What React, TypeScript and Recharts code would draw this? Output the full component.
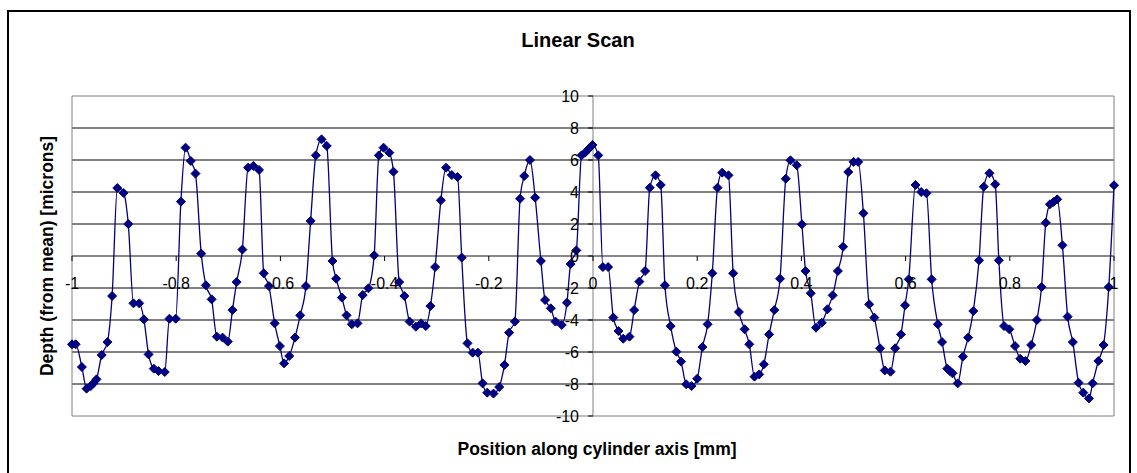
import { LineChart, Line, XAxis, YAxis, ReferenceLine } from 'recharts'

// scan positions along the cylinder axis [mm]
const POSITION = [
  -1.0, -0.993, -0.981, -0.972, -0.964, -0.959, -0.953, -0.943, -0.932, -0.923,
  -0.913, -0.901, -0.892, -0.882, -0.871, -0.862, -0.853, -0.843, -0.834, -0.822,
  -0.813, -0.801, -0.791, -0.782, -0.772, -0.763, -0.752, -0.743, -0.732, -0.722,
  -0.711, -0.701, -0.692, -0.684, -0.673, -0.662, -0.652, -0.641, -0.632, -0.622,
  -0.611, -0.601, -0.593, -0.583, -0.572, -0.562, -0.551, -0.542, -0.532, -0.521,
  -0.511, -0.5, -0.493, -0.482, -0.473, -0.463, -0.452, -0.442, -0.431, -0.42,
  -0.411, -0.402, -0.391, -0.383, -0.372, -0.362, -0.352, -0.34, -0.33, -0.321,
  -0.312, -0.303, -0.292, -0.282, -0.271, -0.26, -0.252, -0.241, -0.231, -0.221,
  -0.212, -0.203, -0.191, -0.18, -0.17, -0.161, -0.15, -0.14, -0.132, -0.121,
  -0.111, -0.1, -0.092, -0.081, -0.072, -0.06, -0.05, -0.043, -0.032, -0.022,
  -0.015, -0.009, -0.001, 0.01, 0.019, 0.029, 0.039, 0.049, 0.058, 0.07,
  0.079, 0.089, 0.1, 0.109, 0.12, 0.13, 0.138, 0.149, 0.16, 0.169,
  0.179, 0.189, 0.2, 0.21, 0.22, 0.229, 0.239, 0.248, 0.26, 0.269,
  0.28, 0.291, 0.3, 0.31, 0.319, 0.328, 0.338, 0.348, 0.359, 0.37,
  0.379, 0.391, 0.401, 0.408, 0.418, 0.428, 0.439, 0.45, 0.46, 0.47,
  0.48, 0.49, 0.5, 0.509, 0.519, 0.53, 0.54, 0.551, 0.56, 0.571,
  0.58, 0.591, 0.599, 0.606, 0.619, 0.63, 0.64, 0.65, 0.662, 0.67,
  0.68, 0.685, 0.69, 0.7, 0.71, 0.72, 0.73, 0.741, 0.75, 0.761,
  0.772, 0.779, 0.789, 0.799, 0.81, 0.82, 0.83, 0.841, 0.852, 0.861,
  0.869, 0.877, 0.884, 0.891, 0.901, 0.911, 0.921, 0.932, 0.941, 0.952,
  0.959, 0.97, 0.98, 0.99, 1.0,
]

// depth from mean [microns]
const DEPTH = [
  -5.52, -5.52, -6.94, -8.29, -8.13, -7.96, -7.71, -6.19, -5.38, -2.5,
  4.25, 3.94, 2.0, -2.96, -2.96, -3.96, -6.15, -7.04, -7.19, -7.25,
  -3.92, -3.92, 3.4, 6.77, 5.94, 5.15, 0.15, -1.83, -2.71, -5.04,
  -5.1, -5.35, -3.38, -1.63, 0.4, 5.52, 5.63, 5.38, -1.08, -1.88,
  -4.21, -5.63, -6.71, -6.25, -5.1, -3.71, -1.88, 2.19, 6.29, 7.29,
  6.88, -0.31, -1.42, -2.6, -3.71, -4.27, -4.21, -2.44, -2.02, 0.04,
  6.29, 6.77, 6.46, 5.27, -1.63, -2.5, -4.1, -4.42, -4.21, -4.38,
  -3.13, -0.69, 3.48, 5.52, 5.06, 4.94, -0.1, -5.46, -6.04, -6.04,
  -7.96, -8.54, -8.6, -8.19, -6.81, -4.79, -4.1, 3.58, 5.0, 6.0,
  3.65, -0.31, -2.75, -3.27, -4.1, -4.31, -2.92, -0.5, 0.35, 6.29,
  6.46, 6.67, 6.94, 6.29, -0.69, -0.69, -3.85, -4.69, -5.17, -5.04,
  -3.38, -1.6, -0.94, 4.27, 5.04, 4.44, -1.83, -4.38, -5.98, -6.6,
  -8.02, -8.13, -7.67, -5.69, -4.27, -1.08, 4.27, 5.21, 5.04, -1.08,
  -3.5, -4.58, -5.52, -7.54, -7.4, -6.77, -4.9, -3.38, -1.42, 4.83,
  5.98, 5.67, 1.98, -0.94, -2.33, -4.48, -4.17, -3.33, -2.46, -0.94,
  0.58, 5.25, 5.88, 5.88, 2.67, -3.02, -3.85, -5.77, -7.15, -7.23,
  -5.77, -4.9, -3.08, -1.46, 4.44, 4.0, 3.92, -1.46, -4.27, -5.38,
  -7.04, -7.19, -7.33, -7.96, -6.29, -5.1, -3.44, -0.27, 4.33, 5.17,
  4.48, -0.27, -4.38, -4.58, -5.63, -6.42, -6.56, -5.56, -4.0, -1.94,
  2.08, 3.23, 3.38, 3.54, 0.67, -3.79, -5.38, -7.92, -8.54, -8.9,
  -7.96, -6.56, -5.56, -1.94, 4.42,
]

const X_TICKS = [-1, -0.8, -0.6, -0.4, -0.2, 0, 0.2, 0.4, 0.6, 0.8, 1]
const Y_TICKS = [-10, -8, -6, -4, -2, 0, 2, 4, 6, 8, 10]
const GRID_Y = [-8, -6, -4, -2, 2, 4, 6, 8]

const W = 1137
const H = 473
// plot area spans x 72..1114, y 96..416; axes reserve 30px below and 60px left
const X_AXIS_H = 30
const Y_AXIS_W = 60
const MARGIN = { top: 96, right: 23, bottom: 57 - X_AXIS_H, left: 72 - Y_AXIS_W }
const PLOT_LEFT = 72
const PLOT_TOP = 96
const PLOT_W = 1114 - 72
const PLOT_H = 416 - 96
// axes cross in the middle of the plot
const ZERO_X = PLOT_LEFT + PLOT_W / 2
const ZERO_Y = PLOT_TOP + PLOT_H / 2

const NAVY = '#000080'
const FONT = '"Liberation Sans", Arial, sans-serif'

const data = POSITION.map((x, i) => ({ x, depth: DEPTH[i] }))

function XTick(props: any) {
  const { x, payload } = props
  return (
    <g>
      <line x1={x} x2={x} y1={ZERO_Y} y2={ZERO_Y + 5} stroke="#000" />
      <text x={x} y={ZERO_Y + 33} textAnchor="middle" fontSize={16} fontFamily={FONT} fill="#000">
        {String(payload.value)}
      </text>
    </g>
  )
}

function YTick(props: any) {
  const { y, payload } = props
  return (
    <g>
      <line x1={ZERO_X - 5} x2={ZERO_X} y1={y} y2={y} stroke="#000" />
      <text x={ZERO_X - 14} y={y} dy="0.36em" textAnchor="end" fontSize={16} fontFamily={FONT} fill="#000">
        {String(payload.value)}
      </text>
    </g>
  )
}

function Diamond(props: any) {
  const { cx, cy, index } = props
  if (cx == null || cy == null) return null
  const r = 4.5
  return (
    <path
      key={index}
      d={`M${cx},${cy - r}L${cx + r},${cy}L${cx},${cy + r}L${cx - r},${cy}Z`}
      fill={NAVY}
      stroke={NAVY}
    />
  )
}

export default function App() {
  return (
    <div style={{ position: 'absolute', left: 0, top: 0, width: W, height: H, background: '#fff', overflow: 'hidden' }}>
      <LineChart width={W} height={H} data={data} margin={MARGIN}>
        {GRID_Y.map((v) => (
          <ReferenceLine key={v} y={v} stroke="#000" strokeWidth={1} />
        ))}
        <ReferenceLine y={10} stroke="#808080" />
        <ReferenceLine y={-10} stroke="#808080" />
        <ReferenceLine x={-1} stroke="#808080" />
        <ReferenceLine x={1} stroke="#808080" />
        <ReferenceLine y={0} stroke="#606060" strokeWidth={1.5} />
        <ReferenceLine x={0} stroke="#808080" />
        <XAxis
          dataKey="x"
          type="number"
          domain={[-1, 1]}
          ticks={X_TICKS}
          height={X_AXIS_H}
          axisLine={false}
          tickLine={false}
          tick={XTick}
          interval={0}
        />
        <YAxis
          type="number"
          domain={[-10, 10]}
          ticks={Y_TICKS}
          width={Y_AXIS_W}
          axisLine={false}
          tickLine={false}
          tick={YTick}
          interval={0}
        />
        <Line
          type="monotone"
          dataKey="depth"
          stroke={NAVY}
          strokeWidth={1.3}
          dot={Diamond}
          isAnimationActive={false}
        />
      </LineChart>
      <svg
        width={W}
        height={H}
        style={{ position: 'absolute', left: 0, top: 0, pointerEvents: 'none' }}
      >
        <rect x={8} y={11} width={1122} height={490} fill="none" stroke="#000" strokeWidth={2} />
        <text x={578} y={47} textAnchor="middle" fontSize={20} fontWeight="bold" fontFamily={FONT}>
          Linear Scan
        </text>
        <text x={597} y={455} textAnchor="middle" fontSize={17.5} fontWeight="bold" fontFamily={FONT}>
          Position along cylinder axis [mm]
        </text>
        <text
          transform="translate(53, 256) rotate(-90)"
          textAnchor="middle"
          fontSize={17.5}
          fontWeight="bold"
          fontFamily={FONT}
        >
          Depth (from mean) [microns]
        </text>
      </svg>
    </div>
  )
}
